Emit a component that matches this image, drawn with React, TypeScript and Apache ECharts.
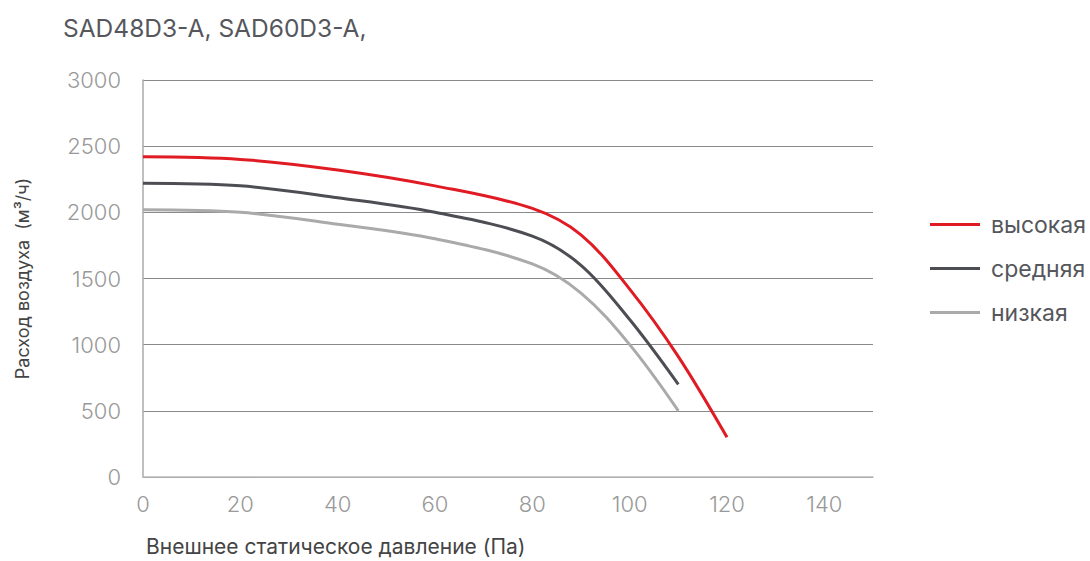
import React, { useEffect, useRef } from "react";
import * as echarts from "echarts";

const pressure = [0, 20, 40, 60, 80, 90, 100, 110, 120];
const highFlow = [2420, 2400, 2320, 2200, 2030, 1830, 1420, 910, 300];
const midFlow = [2220, 2200, 2110, 2000, 1820, 1600, 1190, 700];
const lowFlow = [2020, 2000, 1910, 1800, 1610, 1390, 1000, 500];
const seriesNames = ["высокая", "средняя", "низкая"];
const seriesColors = ["#e01b24", "#4d4e54", "#aaaaaa"];

function pairs(vals: number[]) {
  return vals.map((v, i) => [pressure[i], v]);
}

export default function App() {
  const ref = useRef<HTMLDivElement>(null);
  useEffect(() => {
    if (!ref.current) return;
    const chart = echarts.init(ref.current, undefined, { renderer: "svg" });
    const font = "Inter";
    const data = [highFlow, midFlow, lowFlow];
    chart.setOption({
      animation: false,
      textStyle: { fontFamily: font },
      title: {
        text: "SAD48D3-A, SAD60D3-A,",
        left: 58,
        top: 10,
        textStyle: { fontSize: 24.5, fontWeight: "normal", color: "#55575c", fontFamily: font },
      },
      legend: {
        orient: "vertical",
        left: 925,
        top: 208,
        itemWidth: 50,
        itemHeight: 14,
        itemGap: 21,
        icon: "path://M0,6 L50,6 L50,9 L0,9 Z",
        textStyle: { fontSize: 23, color: "#55575c", fontFamily: font, padding: [0, 0, 0, 6] },
        data: seriesNames,
      },
      grid: { left: 143, right: 217, top: 80, bottom: 84 },
      xAxis: {
        type: "value",
        min: 0,
        max: 150,
        interval: 20,
        name: "Внешнее статическое давление (Па)",
        nameLocation: "start",
        nameGap: 0,
        nameTextStyle: {
          fontSize: 21,
          color: "#444",
          fontFamily: font,
          align: "left",
          verticalAlign: "top",
          padding: [59, 0, 0, 3],
        },
        axisLine: { show: true, lineStyle: { color: "#bbbbbb", width: 1.5 } },
        axisTick: { show: false },
        splitLine: { show: false },
        axisLabel: {
          fontSize: 22,
          fontWeight: 300,
          color: "#999",
          fontFamily: font,
          margin: 16,
          showMaxLabel: false,
          formatter: (v: number) => (v > 140 ? "" : String(v)),
        },
      },
      yAxis: {
        type: "value",
        min: 0,
        max: 3000,
        interval: 500,
        name: "Расход воздуха  (м³/ч)",
        nameLocation: "middle",
        nameGap: 112,
        nameTextStyle: { fontSize: 18, color: "#444", fontFamily: font },
        axisLine: { show: true, lineStyle: { color: "#aaaaaa", width: 1.5 } },
        axisTick: { show: false },
        splitLine: { show: true, lineStyle: { color: "#8a8a8a", width: 1 } },
        axisLabel: {
          fontSize: 22,
          fontWeight: 300,
          color: "#999",
          fontFamily: font,
          margin: 22,
          formatter: (v: number) => String(v),
        },
      },
      series: data.map((d, i) => ({
        name: seriesNames[i],
        type: "line",
        smooth: 0.35,
        showSymbol: false,
        symbol: "none",
        data: pairs(d),
        lineStyle: { color: seriesColors[i], width: 3 },
        itemStyle: { color: seriesColors[i] },
      })),
    });
    return () => chart.dispose();
  }, []);
  return <div ref={ref} style={{ width: 1090, height: 561, position: "absolute", left: 0, top: 0 }} />;
}
